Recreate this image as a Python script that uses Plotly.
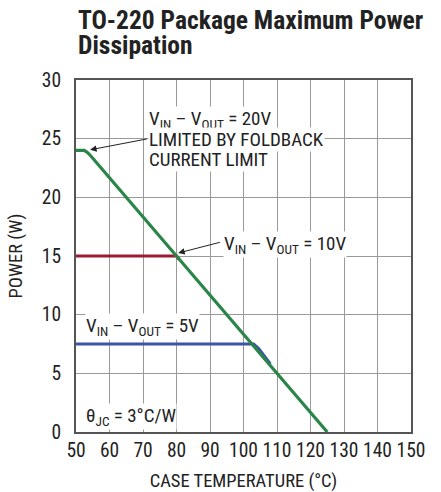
import plotly.graph_objects as go

# Data
green_t = [50, 52.5, 53.5, 54.5, 125]
green_p = [24, 24, 23.8, 23.5, 0]
red_t = [50, 80, 80.8]
red_p = [15, 15, 14.7]
blue_t = [50, 103, 104.5, 108]
blue_p = [7.5, 7.5, 7.1, 5.8]
x_ticks = [50, 60, 70, 80, 90, 100, 110, 120, 130, 140, 150]
y_ticks = [0, 5, 10, 15, 20, 25, 30]

FONT = "Roboto Condensed, Liberation Sans Narrow, Arial Narrow, sans-serif"

fig = go.Figure()
fig.add_trace(go.Scatter(x=blue_t, y=blue_p, mode="lines", line=dict(color="#3b55a5", width=3.2), showlegend=False))
fig.add_trace(go.Scatter(x=red_t, y=red_p, mode="lines", line=dict(color="#9c1a34", width=3.2), showlegend=False))
fig.add_trace(go.Scatter(x=green_t, y=green_p, mode="lines", line=dict(color="#2a8548", width=3.2), showlegend=False))

ann_font = dict(family=FONT, size=19, color="#222")
anns = []
def txt(x, y, t):
    anns.append(dict(x=x, y=y, xref="x", yref="y", text=t, showarrow=False,
                     xanchor="left", yanchor="middle", bgcolor="white", font=ann_font, borderpad=0))

txt(71.6, 26.6, "V<sub>IN</sub> – V<sub>OUT</sub> = 20V")
txt(71.6, 24.94, "LIMITED BY FOLDBACK")
txt(71.6, 23.24, "CURRENT LIMIT")
txt(93.8, 15.95, "V<sub>IN</sub> – V<sub>OUT</sub> = 10V")
txt(52.6, 9.0, "V<sub>IN</sub> – V<sub>OUT</sub> = 5V")
txt(52.6, 1.3, "θ<sub>JC</sub> = 3°C/W")

def arrow(x, y, ax, ay):
    anns.append(dict(x=x, y=y, ax=ax, ay=ay, xref="x", yref="y", axref="x", ayref="y",
                     text="", showarrow=True, arrowhead=2, arrowsize=1.3, arrowwidth=1,
                     arrowcolor="#222"))

arrow(54.2, 24.05, 71.6, 25.0)
arrow(80.5, 15.25, 93.4, 16.2)

# Title as two annotations (tight line spacing)
title_font = dict(family=FONT, size=25.5, color="#222")
anns.append(dict(x=0.0, y=1.17, xref="paper", yref="paper", xanchor="left", yanchor="middle",
                 text="<b>TO-220 Package Maximum Power</b>", showarrow=False, font=title_font))
anns.append(dict(x=0.0, y=1.10, xref="paper", yref="paper", xanchor="left", yanchor="middle",
                 text="<b>Dissipation</b>", showarrow=False, font=title_font))

fig.update_layout(
    width=441, height=492,
    margin=dict(l=76, r=30, t=80, b=60),
    paper_bgcolor="white", plot_bgcolor="white",
    font=dict(family=FONT, size=19, color="#222"),
    annotations=anns,
    xaxis=dict(range=[50, 150], tickvals=x_ticks, showgrid=True, gridcolor="#9a9a9a", gridwidth=1,
               showline=True, linecolor="#555", linewidth=2, mirror=True, zeroline=False,
               ticks="", tickfont=dict(size=19.5), tickangle=0, automargin=False,
               title=dict(text="CASE TEMPERATURE (°C)", font=dict(size=18.5), standoff=14)),
    yaxis=dict(range=[0, 30], tickvals=y_ticks, showgrid=True, gridcolor="#9a9a9a", gridwidth=1,
               showline=True, linecolor="#555", linewidth=2, mirror=True, zeroline=False,
               ticks="", tickfont=dict(size=19.5), ticklabelstandoff=9, automargin=False,
               title=dict(text="POWER (W)", font=dict(size=18.5), standoff=14)),
)
fig.write_html(
    "out.html",
    config={"displayModeBar": False, "staticPlot": True},
    post_script=("document.documentElement.style.overflow='hidden';"
                 "document.body.style.margin='0';document.body.style.overflow='hidden';"),
)
